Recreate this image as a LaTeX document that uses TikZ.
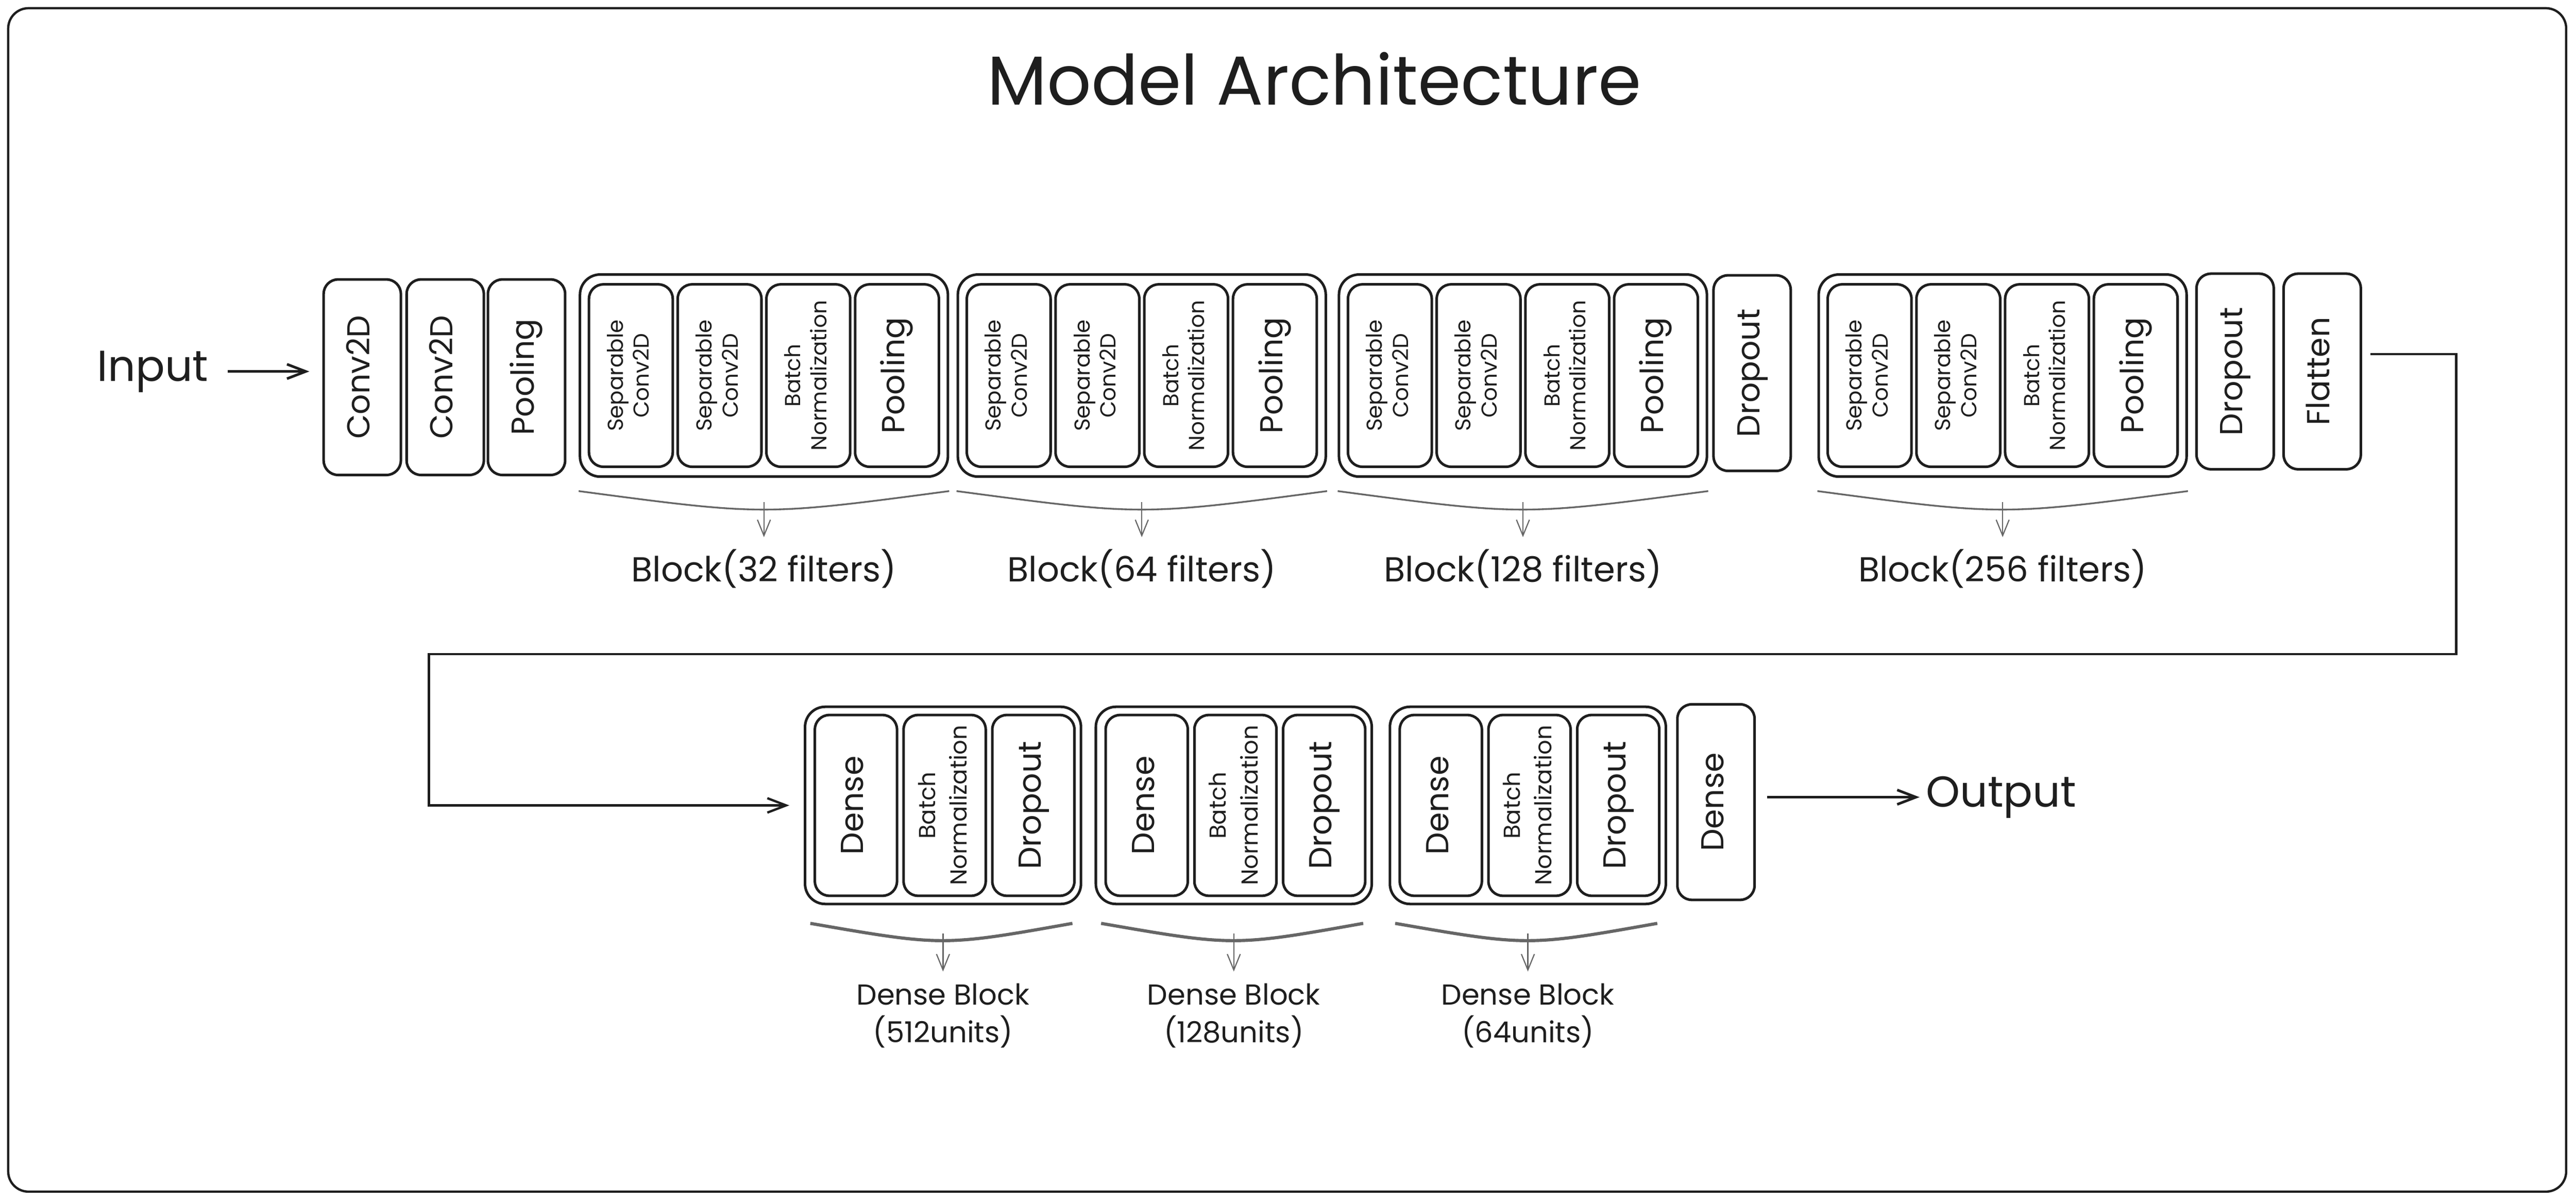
\documentclass[tikz,border=0pt]{standalone}
\usepackage{fontspec}
\setmainfont{Poppins}
\usetikzlibrary{arrows.meta,calc}
\definecolor{ink}{HTML}{1E1E1E}
\definecolor{linegrey}{HTML}{666666}
\tikzset{
  layer/.style={draw, line width=0.9pt, rounded corners=5pt, inner sep=0pt,
    minimum width=0.94cm, minimum height=2.38cm, font=\fontsize{11}{13}\selectfont},
  sublayer/.style={layer, minimum width=1.02cm, minimum height=2.22cm},
  densecell/.style={layer, minimum width=1.0cm, minimum height=2.2cm},
  smalltext/.style={font=\fontsize{7.5}{9}\selectfont},
  blockbox/.style={draw, line width=0.9pt, rounded corners=7pt,
    minimum width=4.48cm, minimum height=2.46cm},
  denseframe/.style={blockbox, minimum width=3.36cm, minimum height=2.4cm},
  brace/.style={draw=linegrey, line width=0.6pt},
  densebrace/.style={draw=linegrey, line width=1.1pt},
  pointer/.style={draw=linegrey, line width=0.4pt,
    -{Straight Barb[length=5.5pt,width=4.5pt]}, shorten >=3pt},
  flow/.style={line width=0.9pt, -{Straight Barb[length=6.5pt,width=5pt]}},
  biglabel/.style={inner sep=1pt, font=\fontsize{15}{18}\selectfont},
  blocklabel/.style={inner sep=1pt, font=\fontsize{12}{14}\selectfont},
  denselabel/.style={inner sep=1pt, align=center, font=\fontsize{10}{13}\selectfont},
  frame/.style={line width=0.8pt, rounded corners=7pt}
}
\newcommand{\vlab}[1]{\rotatebox{90}{\begin{tabular}{@{}c@{}}#1\end{tabular}}}
\begin{document}
\begin{tikzpicture}[x=0.02cm, y=-0.02cm, color=ink]
\useasboundingbox (0,0) rectangle (1568,730.5);
\draw[frame] (5,5) rectangle (1562,725);
\node[inner sep=1pt, font=\fontsize{24}{28}\selectfont] (title) at (800,48) {Model Architecture};

% conv block: left edge, name, filters
\def\convblock#1#2#3{%
  \node[blockbox] (#2) at (#1+112,228.5) {};
  \node[sublayer,smalltext] (#2s1) at (#1+31,228.5) {\vlab{Separable\\Conv2D}};
  \node[sublayer,smalltext] (#2s2) at (#1+85,228.5) {\vlab{Separable\\Conv2D}};
  \node[sublayer,smalltext] (#2bn) at (#1+139,228.5) {\vlab{Batch\\Normalization}};
  \node[sublayer] (#2p) at (#1+193,228.5) {\vlab{Pooling}};
  \coordinate (#2m) at (#1+112,305.5);
  \draw[brace] ($(#2.south west)+(0,8)$) .. controls ($(#2.south)+(0,23)$) .. ($(#2.south east)+(0,8)$);
  \node[blocklabel] (#2l) at (#1+112,346) {Block(#3 filters)};
  \draw[pointer] (#2m) -- (#2l);
}
% dense block: left edge, name, units
\def\denseblock#1#2#3{%
  \node[denseframe] (#2) at (#1+84,490) {};
  \node[densecell] (#2d) at (#1+31,490) {\vlab{Dense}};
  \node[densecell,font=\fontsize{8}{11}\selectfont] (#2bn) at (#1+85,490) {\vlab{Batch\\Normalization}};
  \node[densecell] (#2do) at (#1+139,490) {\vlab{Dropout}};
  \coordinate (#2m) at (#1+84,568);
  \draw[densebrace] ($(#2.south west)+(4,11)$) .. controls ($(#2.south)+(0,25)$) .. ($(#2.south east)+(-6,11)$);
  \node[denselabel] (#2l) at (#1+84,618) {Dense Block\\(#3units)};
  \draw[pointer] (#2m) -- (#2l);
}

\node[biglabel] (in) at (93,226) {Input};
\node[layer] (c1) at (220.5,229.5) {\vlab{Conv2D}};
\node[layer] (c2) at (271,229.5) {\vlab{Conv2D}};
\node[layer] (p0) at (320.5,229.5) {\vlab{Pooling}};
\convblock{353}{b1}{32}
\convblock{583}{b2}{64}
\convblock{815}{b3}{128}
\node[layer] (dr1) at (1066.5,227) {\vlab{Dropout}};
\convblock{1107}{b4}{256}
\node[layer] (dr2) at (1360.5,226) {\vlab{Dropout}};
\node[layer] (fl) at (1413.5,226) {\vlab{Flatten}};
\draw[flow, shorten <=5.5pt, shorten >=4.5pt] (in.east) -- (in.east -| c1.west);

\denseblock{490}{e1}{512}
\denseblock{667}{e2}{128}
\denseblock{846}{e3}{64}
\node[layer] (d4) at (1044.5,488) {\vlab{Dense}};
\node[biglabel] (out) at (1218,485) {Output};
\draw[flow, shorten <=3.9pt, shorten >=1pt] (d4.east |- out.west) -- (out.west);

% flatten to dense row
\coordinate (fout) at (1443,215.5);
\coordinate (rdown) at (1495,398);
\coordinate (turn) at (261,398);
\draw[flow, line width=0.8pt, shorten >=5pt] (fout) -| (rdown) -- (turn) |- (e1);
\end{tikzpicture}
\end{document}
